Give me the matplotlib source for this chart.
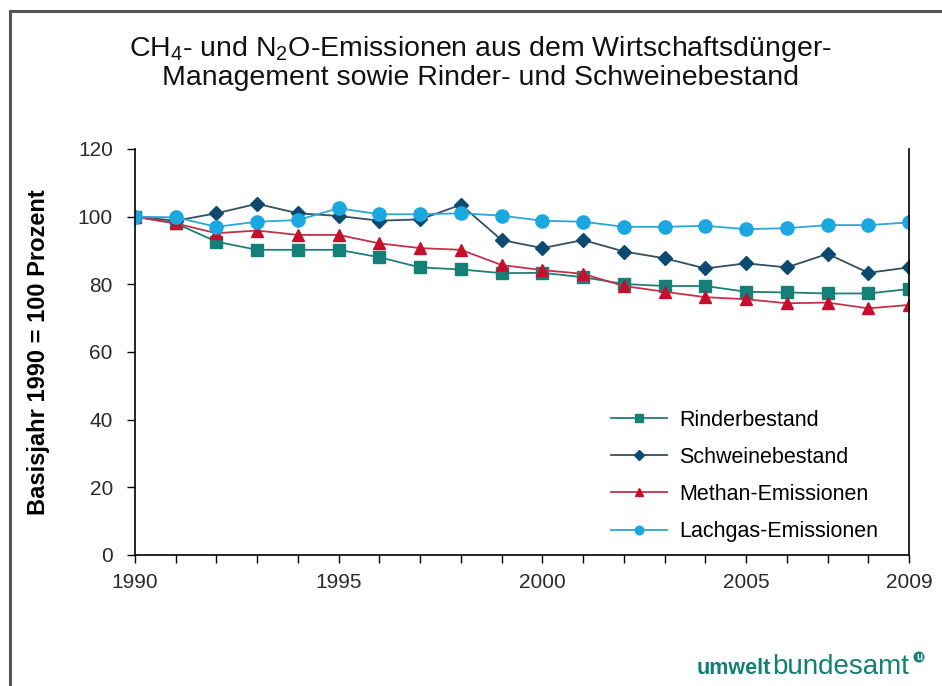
import matplotlib
matplotlib.use("Agg")
import matplotlib.pyplot as plt
from matplotlib.patches import Rectangle, Ellipse

plt.rcParams["font.family"] = ["Liberation Sans", "DejaVu Sans"]
plt.rcParams["mathtext.default"] = "regular"

# data (index 1990 = 100)
years = list(range(1990, 2010))
rinder = [100, 98.0, 92.6, 90.2, 90.2, 90.2, 88.0, 85.0, 84.4, 83.3,
          83.4, 82.1, 80.1, 79.5, 79.5, 77.8, 77.6, 77.3, 77.3, 78.6]
schweine = [100, 98.8, 101.0, 103.8, 101.0, 100.2, 98.8, 99.2, 103.5, 93.1,
            90.7, 93.1, 89.7, 87.7, 84.7, 86.2, 85.0, 89.0, 83.4, 85.0]
methan = [100, 98.0, 95.1, 95.9, 94.6, 94.6, 92.1, 90.7, 90.2, 85.7,
          84.2, 83.1, 79.5, 77.8, 76.2, 75.6, 74.4, 74.6, 72.9, 73.9]
lachgas = [100, 99.8, 97.0, 98.5, 99.0, 102.5, 100.7, 100.7, 101.0, 100.3,
           98.8, 98.5, 97.0, 97.0, 97.3, 96.3, 96.6, 97.5, 97.5, 98.3]

series_names = ["Rinderbestand", "Schweinebestand", "Methan-Emissionen", "Lachgas-Emissionen"]
x_labels = [1990, 1995, 2000, 2005, 2009]
y_ticks = [0, 20, 40, 60, 80, 100, 120]

fig = plt.figure(figsize=(9.42, 6.86), dpi=100)
ax = fig.add_axes([0.1433, 0.191, 0.8217, 0.5918])

# outer frame of the figure (gray border, open to the right and bottom)
fig.patches.append(Rectangle((9.5 / 942, -0.05), 1.1, (686 - 11) / 686 + 0.05,
                             transform=fig.transFigure, fill=False,
                             edgecolor="#555555", linewidth=2.2))

styles = [
    ("#148078", "#1f7f78", "s", 8.5),
    ("#0d4a70", "#34505f", "D", 7.5),
    ("#c4102c", "#c4324a", "^", 9),
    ("#1ba8e0", "#2aa6d8", "o", 9.5),
]
for vals, name, (mc, lc, mk, ms) in zip([rinder, schweine, methan, lachgas], series_names, styles):
    ax.plot(years, vals, color=lc, linewidth=1.3, marker=mk, markersize=ms,
            markerfacecolor=mc, markeredgecolor=mc, label=name)

ax.set_xlim(1990, 2009)
ax.set_ylim(0, 120)
ax.set_xticks(years)
ax.set_xticklabels([str(y) if y in x_labels else "" for y in years])
ax.set_yticks(y_ticks)
ax.tick_params(axis="both", direction="out", length=6, width=1, labelsize=15,
               color="black", labelcolor="#2a2a2a")
ax.tick_params(axis="x", pad=7)
ax.tick_params(axis="y", pad=10)
ax.spines["top"].set_visible(False)
for s in ["left", "bottom", "right"]:
    ax.spines[s].set_linewidth(1.2)

ax.set_ylabel("Basisjahr 1990 = 100 Prozent", fontsize=17, fontweight="bold", labelpad=20)

fig.text(480 / 942, 0.909, "CH$_4$- und N$_2$O-Emissionen aus dem Wirtschaftsdünger-\nManagement sowie Rinder- und Schweinebestand",
         ha="center", va="center", fontsize=20.5, linespacing=1.02, color="#111111")

leg = ax.legend(loc="lower right", bbox_to_anchor=(0.985, -0.016), frameon=False,
                fontsize=15.5, handlelength=2.6, labelspacing=0.75, markerscale=0.65,
                handletextpad=0.55)

# logo text at the bottom right
logo_color = "#138074"
t1 = fig.text(697 / 942, 0.017, "umwelt", color=logo_color, fontsize=15.5, fontweight="bold",
              ha="left", va="baseline")
fig.canvas.draw()
bb = t1.get_window_extent()
fig.text(bb.x1 / 942 + 0.001, 0.017, "bundesamt", color=logo_color, fontsize=20,
         ha="left", va="baseline")
fig.patches.append(Ellipse((919 / 942, (686 - 657) / 686), 11 / 942, 11 / 686,
                           transform=fig.transFigure, facecolor=logo_color, edgecolor="none"))
fig.text(919 / 942, (686 - 657.5) / 686, "u", color="white", fontsize=7, fontweight="bold",
         ha="center", va="center")

fig.savefig("out.png", dpi=100)
